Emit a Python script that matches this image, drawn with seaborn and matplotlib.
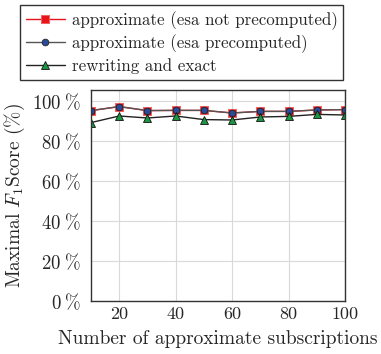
import matplotlib
matplotlib.use("Agg")
import matplotlib.pyplot as plt
import seaborn as sns
import pandas as pd

subscriptions = [10, 20, 30, 40, 50, 60, 70, 80, 90, 100]
esa_not_pre = [95.2, 97.2, 95.2, 95.3, 95.3, 94.0, 94.8, 94.8, 95.5, 95.7]
esa_pre = [95.2, 97.2, 95.2, 95.3, 95.3, 94.0, 94.8, 94.8, 95.5, 95.7]
rewriting = [89.2, 92.5, 91.5, 92.5, 90.7, 90.5, 92.0, 92.3, 93.3, 93.0]
series_names = ["approximate (esa not precomputed)",
                "approximate (esa precomputed)",
                "rewriting and exact"]
y_ticks = [0, 20, 40, 60, 80, 100]
x_ticks = [20, 40, 60, 80, 100]

sns.set_theme(style="whitegrid")
plt.rcParams["font.family"] = ["cmr10", "DejaVu Serif"]
plt.rcParams["mathtext.fontset"] = "cm"
plt.rcParams["axes.unicode_minus"] = False

df = pd.DataFrame({
    "x": subscriptions * 3,
    "y": esa_not_pre + esa_pre + rewriting,
    "series": [series_names[0]] * 10 + [series_names[1]] * 10 + [series_names[2]] * 10,
})

fig = plt.figure(figsize=(3.81, 3.54), dpi=100)
ax = fig.add_axes([0.2388, 0.1497, 0.9055 - 0.2388, 0.7458 - 0.1497])

styles = [
    dict(color="#e8141c", marker="s", markersize=6, markerfacecolor="#e8141c",
         markeredgecolor="#f06060", linewidth=1.0),
    dict(color="#555555", marker="o", markersize=4.8, markerfacecolor="#2b4a9a",
         markeredgecolor="#222222", linewidth=1.0, markeredgewidth=0.6),
    dict(color="#222222", marker="^", markersize=5.5, markerfacecolor="#1a9641",
         markeredgecolor="#111111", linewidth=1.0, markeredgewidth=0.6),
]
for name, st in zip(series_names, styles):
    sns.lineplot(data=df[df["series"] == name], x="x", y="y", ax=ax, label=name,
                 **st)

ax.set_xlim(10, 100)
ax.set_ylim(0, 105.5)
ax.set_xticks(x_ticks)
ax.set_xticklabels([str(v) for v in x_ticks], fontsize=13)
ax.set_yticks(y_ticks)
ax.set_yticklabels([r"$%d\;\%%$" % v for v in y_ticks], fontsize=13.5)
ax.set_xlabel("Number of approximate subscriptions", fontsize=14, labelpad=6)
ax.set_ylabel(r"Maximal $F_1$Score (%)", fontsize=14, labelpad=4)
ax.grid(True, color="#d9d9d9", linewidth=0.8)
ax.tick_params(axis="x", which="both", length=0, pad=4)
ax.tick_params(axis="y", which="both", length=0, pad=7)
for sp in ax.spines.values():
    sp.set_color("#333333")
    sp.set_linewidth(1.0)
ax.set_facecolor("white")

handles, labels = ax.get_legend_handles_labels()
ax.get_legend().remove()
leg = fig.legend(handles, labels, loc="upper left",
                 bbox_to_anchor=(20 / 381, 1 - 5 / 354),
                 fontsize=12.2, frameon=True, fancybox=False,
                 edgecolor="#333333", framealpha=1, borderpad=0.35,
                 labelspacing=0.28, handlelength=2.3, handletextpad=0.4,
                 borderaxespad=0)
leg.get_frame().set_linewidth(1.0)

fig.savefig("out.png", dpi=100)
